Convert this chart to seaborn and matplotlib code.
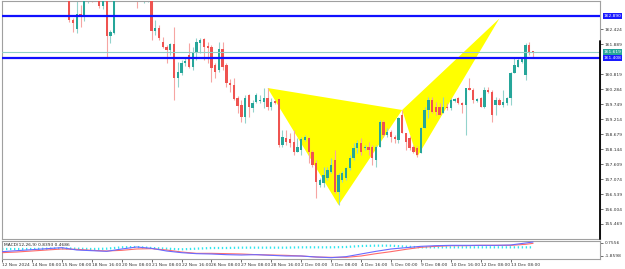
import numpy as np
import pandas as pd
import matplotlib
matplotlib.use("Agg")
import matplotlib.pyplot as plt
import matplotlib.transforms as mtransforms
from matplotlib.patches import Polygon
import seaborn as sns

# ---------------- data ----------------
opens = [163.658, 162.764, 162.442, 162.978, 162.907, 163.622, 163.765, 164.015, 163.622, 163.264,
         163.551, 162.192, 162.299, 163.586, 163.980, 163.837, 164.051, 163.908, 163.765, 163.586,
         163.515, 163.551, 163.586, 162.370, 162.478, 161.977, 161.798, 161.691, 161.906, 160.690,
         160.869, 161.226, 161.512, 161.083, 161.619, 161.941, 162.084, 161.834, 161.798, 161.155,
         160.976, 161.727, 161.155, 160.511, 160.439, 159.975, 159.724, 159.295, 160.082, 159.617,
         159.832, 159.867, 159.832, 159.975, 159.653, 159.867, 159.939, 158.294, 158.544, 158.508,
         158.401, 158.043, 158.115, 158.473, 158.544, 158.043, 157.650, 156.863, 156.935, 157.114,
         157.328, 157.757, 156.613, 157.042, 157.114, 157.471, 157.829, 158.187, 158.365, 158.187,
         158.222, 158.222, 157.757, 158.222, 159.116, 158.651, 158.759, 158.580, 158.473, 159.367,
         158.723, 158.544, 158.222, 158.187, 158.008, 158.902, 159.546, 159.903, 159.653, 159.653,
         159.438, 159.653, 159.617, 159.867, 159.975, 159.796, 159.724, 160.332, 160.261, 159.867,
         159.975, 159.653, 160.261, 160.189, 159.724, 159.903, 159.724, 159.796, 159.975, 160.869,
         161.083, 161.262, 160.797, 161.870, 161.655]
highs = [163.837, 162.835, 163.658, 163.300, 163.765, 163.980, 163.908, 164.123, 163.765, 163.694,
         163.694, 162.406, 163.694, 164.051, 164.123, 164.266, 164.123, 164.051, 163.837, 163.908,
         163.837, 163.908, 163.694, 162.764, 162.585, 162.156, 161.870, 161.941, 162.513, 161.262,
         161.333, 161.405, 161.941, 161.798, 162.120, 162.120, 162.120, 161.977, 161.870, 161.226,
         161.977, 161.977, 161.226, 160.654, 160.690, 160.046, 159.903, 160.082, 160.118, 159.903,
         160.153, 160.082, 160.332, 160.332, 159.975, 159.903, 159.939, 158.830, 158.830, 158.723,
         158.830, 158.544, 158.580, 158.651, 158.580, 158.115, 157.757, 157.114, 157.507, 157.507,
         157.829, 158.115, 157.292, 157.364, 157.507, 157.936, 158.365, 158.473, 158.544, 158.294,
         158.401, 158.294, 158.294, 159.188, 159.188, 158.902, 158.830, 158.651, 159.295, 159.546,
         158.723, 158.616, 158.294, 158.258, 158.938, 159.653, 160.010, 160.010, 159.832, 159.796,
         160.010, 159.796, 159.975, 159.975, 160.010, 159.832, 160.332, 160.690, 160.332, 159.975,
         160.010, 160.368, 160.368, 160.261, 160.010, 159.975, 160.261, 160.010, 160.904, 161.405,
         161.405, 161.441, 161.941, 161.977, 161.655]
lows = [162.692, 162.335, 162.299, 162.513, 162.728, 163.372, 163.407, 163.586, 163.193, 163.157,
        161.441, 161.941, 162.263, 163.479, 163.551, 163.694, 163.658, 163.515, 163.193, 163.515,
        163.372, 163.407, 162.049, 162.227, 162.049, 161.763, 161.226, 161.512, 159.903, 160.368,
        160.797, 161.119, 161.047, 160.976, 161.333, 161.584, 161.333, 161.226, 160.547, 160.690,
        160.904, 160.976, 160.368, 160.189, 159.903, 159.438, 159.116, 159.080, 159.295, 159.474,
        159.796, 159.796, 159.617, 159.546, 159.546, 159.760, 158.222, 158.222, 158.294, 158.222,
        157.936, 158.043, 157.936, 158.437, 157.650, 157.507, 156.398, 156.792, 156.792, 157.042,
        157.292, 156.577, 156.148, 156.971, 157.042, 157.400, 157.757, 158.008, 157.936, 158.115,
        157.936, 157.579, 157.507, 158.222, 158.580, 158.580, 158.401, 158.365, 158.365, 158.723,
        158.115, 158.115, 158.008, 157.865, 158.008, 158.902, 159.259, 159.438, 159.367, 159.367,
        159.438, 159.546, 159.546, 159.832, 159.760, 159.438, 158.651, 160.261, 159.796, 159.832,
        159.653, 159.617, 160.153, 159.116, 159.367, 159.724, 159.653, 159.724, 159.724, 160.869,
        161.083, 161.226, 160.618, 161.512, 161.441]
closes = [162.764, 162.657, 162.978, 162.907, 163.586, 163.837, 163.586, 163.765, 163.264, 163.515,
          162.192, 162.335, 163.551, 163.908, 163.694, 164.123, 163.765, 163.622, 163.551, 163.801,
          163.694, 163.837, 162.370, 162.478, 162.120, 161.798, 161.691, 161.906, 160.690, 160.904,
          161.226, 161.298, 161.083, 161.619, 161.977, 162.049, 161.798, 161.763, 161.047, 160.904,
          161.727, 161.083, 160.511, 160.439, 159.939, 159.689, 159.295, 159.975, 159.653, 159.796,
          160.082, 159.903, 159.975, 159.653, 159.832, 159.796, 158.294, 158.580, 158.401, 158.365,
          158.043, 158.222, 158.508, 158.580, 158.043, 157.579, 156.971, 157.042, 157.221, 157.400,
          157.579, 156.613, 157.221, 157.292, 157.471, 157.829, 158.187, 158.365, 158.043, 158.222,
          158.115, 157.829, 158.222, 159.116, 158.651, 158.759, 158.580, 158.508, 159.259, 158.723,
          158.401, 158.187, 158.043, 157.936, 158.902, 159.546, 159.903, 159.474, 159.474, 159.367,
          159.653, 159.617, 159.903, 159.939, 159.796, 159.724, 160.332, 160.261, 159.903, 159.939,
          159.653, 160.261, 160.189, 159.367, 159.903, 159.724, 159.832, 159.975, 160.869, 161.155,
          161.333, 161.405, 161.870, 161.619, 161.619]

macd_bar = [-18, -14, -10, -6, -2, 2, 6, 10, 14, 18, 22, 26, 30, 34, 38, 42, 46, 50, 54,
            58, 62, 66, 70, 74, 78, 82, 86, 90, 94, 98, 102, 106, 110, 114, 118, 122, 124]
macd_main = [-0.988, -0.787, -0.586, -0.385, -0.183, -0.653, -0.787, -0.921, -0.452, -0.049,
             -0.318, -0.854, -1.189, -1.391, -1.458, -1.592, -1.659, -1.592, -1.726, -1.860,
             -1.860, -2.062, -2.195, -1.994, -1.458, -0.921, -0.452, -0.183, 0.085, 0.219,
             0.286, 0.286, 0.286, 0.286, 0.353, 0.755, 0.957]
macd_signal = [-1.189, -1.055, -0.854, -0.653, -0.452, -0.519, -0.720, -0.854, -0.720, -0.452,
               -0.385, -0.653, -1.055, -1.324, -1.324, -1.391, -1.458, -1.592, -1.659, -1.726,
               -1.860, -2.062, -2.128, -2.128, -1.860, -1.391, -0.988, -0.519, -0.116, 0.085,
               0.219, 0.219, 0.286, 0.286, 0.286, 0.487, 0.688]
macd_osma = [-0.452, -0.452, -0.452, -0.385, -0.318, -0.385, -0.452, -0.385, -0.116, -0.049,
             -0.250, -0.385, -0.519, -0.385, -0.250, -0.250, -0.183, -0.183, -0.183, -0.183,
             -0.116, -0.116, -0.116, -0.049, 0.152, 0.219, 0.219, 0.018, -0.116, -0.116,
             -0.116, -0.116, -0.116, -0.116, -0.116, -0.116, -0.116]

pattern_xab_bar = [53, 72, 89]
pattern_xab_price = [160.332, 156.148, 159.546]
pattern_bcd_bar = [89, 93, 115]
pattern_bcd_price = [159.546, 157.865, 162.817]

level_high = 162.890
level_low = 161.408
bid_price = 161.619

price_ticks = [162.424, 161.889, 160.819, 160.284, 159.749, 159.214, 158.679,
               158.144, 157.609, 157.074, 156.539, 156.004, 155.469]
time_tick_bars = [-18, -10, -2, 6, 14, 22, 30, 38, 46, 54, 62, 70, 78, 86, 94, 102, 110, 118]
time_labels = ["12 Nov 2024", "14 Nov 08:00", "15 Nov 08:00", "18 Nov 16:00", "20 Nov 08:00",
               "21 Nov 08:00", "22 Nov 16:00", "26 Nov 08:00", "27 Nov 08:00", "28 Nov 16:00",
               "2 Dec 00:00", "3 Dec 08:00", "4 Dec 16:00", "5 Dec 00:00", "9 Dec 08:00",
               "10 Dec 16:00", "12 Dec 08:00", "13 Dec 08:00"]
macd_ticks = [0.7556, -1.8598]
macd_title = "MACD(12,26,9) 0.8393 0.4686"

# ---------------- figure ----------------
sns.set_style("white")
plt.rcParams['font.family'] = ['DejaVu Sans']

W, H = 625, 269
fig = plt.figure(figsize=(W / 100, H / 100), dpi=100)
ax = fig.add_axes([2 / W, 1 - 238.5 / H, 598 / W, 237.5 / H])
ax2 = fig.add_axes([2 / W, 1 - 259 / H, 598 / W, 18 / H], sharex=ax)

spine_c = "#a0a0a0"
for a in (ax, ax2):
    for s in a.spines.values():
        s.set_color(spine_c)
        s.set_linewidth(0.8)
    a.set_facecolor("white")

xmin, xmax = -17.6, 141.9
ax.set_xlim(xmin, xmax)
ax.set_ylim(154.950, 163.443)

df = pd.DataFrame({"o": opens, "h": highs, "l": lows, "c": closes})
df["i"] = np.arange(len(df))
up = df["c"] >= df["o"]
bull, bear = "#26a69a", "#ef5350"
bull_w, bear_w = "#93d3cc", "#f6a5a3"

# harmonic pattern triangles (beneath candles)
ax.add_patch(Polygon(np.column_stack([pattern_xab_bar, pattern_xab_price]), closed=True,
                     facecolor="#ffff00", edgecolor="none", zorder=1))
ax.add_patch(Polygon(np.column_stack([pattern_bcd_bar, pattern_bcd_price]), closed=True,
                     facecolor="#ffff00", edgecolor="none", zorder=1))

# wicks
ax.vlines(df["i"][up], df["l"][up], df["h"][up], color=bull_w, lw=0.8, zorder=2)
ax.vlines(df["i"][~up], df["l"][~up], df["h"][~up], color=bear_w, lw=0.8, zorder=2)
# bodies
body_lo = np.minimum(df["o"], df["c"])
body_h = np.maximum(np.abs(df["c"] - df["o"]), 0.03)
ax.bar(df["i"][up], body_h[up], bottom=body_lo[up], width=0.62, color=bull, linewidth=0, zorder=3)
ax.bar(df["i"][~up], body_h[~up], bottom=body_lo[~up], width=0.62, color=bear, linewidth=0, zorder=3)

# horizontal levels
ax.axhline(level_high, color="#1010ff", lw=1.6, zorder=4)
ax.axhline(level_low, color="#1010ff", lw=1.6, zorder=4)
ax.axhline(bid_price, color="#8fcfc6", lw=0.8, zorder=4)

FS = 3.2
# right price scale
ax.yaxis.tick_right()
ax.set_yticks(price_ticks)
ax.set_yticklabels([f"{v:.3f}" for v in price_ticks])
ax.tick_params(axis="y", right=True, length=2, width=0.5, pad=1.5, labelsize=FS,
               colors="#333333", direction="out")
ax.tick_params(axis="x", bottom=False, labelbottom=False)
trans = mtransforms.blended_transform_factory(ax.transAxes, ax.transData)
for val, bg in [(level_high, "#1a1aff"), (bid_price, "#26a69a"), (level_low, "#1a1aff")]:
    ax.text(1.006, val, f"{val:.3f}", transform=trans, fontsize=FS, color="white",
            va="center", ha="left", clip_on=False,
            bbox=dict(facecolor=bg, edgecolor="none", pad=0.7), zorder=6)
ax.plot([1, 1], [0, 0.8316], transform=ax.transAxes, color="black", lw=1.3,
        clip_on=False, zorder=7)

# MACD panel
mdf = pd.DataFrame({"bar": macd_bar, "main": macd_main, "signal": macd_signal, "osma": macd_osma})
sns.lineplot(data=mdf, x="bar", y="osma", ax=ax2, color="#2ee6f0", lw=1.6,
             linestyle=(0, (0.6, 1.2)), zorder=2)
sns.lineplot(data=mdf, x="bar", y="signal", ax=ax2, color="#ff6b6b", lw=0.8, zorder=3)
sns.lineplot(data=mdf, x="bar", y="main", ax=ax2, color="#6a6aff", lw=0.8, zorder=4)
ax2.set_ylim(-2.464, 1.158)
ax2.set_xlim(xmin, xmax)
ax2.set_xlabel("")
ax2.set_ylabel("")
ax2.yaxis.tick_right()
ax2.set_yticks(macd_ticks)
ax2.set_yticklabels([f"{v:.4f}" for v in macd_ticks])
ax2.tick_params(axis="y", right=True, length=2, width=0.5, pad=1.5, labelsize=FS,
                colors="#333333")
ax2.set_xticks(time_tick_bars)
ax2.set_xticklabels(time_labels, ha="left")
ax2.tick_params(axis="x", bottom=True, length=2, width=0.5, pad=0.8, labelsize=FS,
                colors="#333333")
ax2.text(0.003, 0.78, macd_title, transform=ax2.transAxes, fontsize=3.2, color="#222222",
         va="center", ha="left")
ax.set_ylabel("")
ax.set_xlabel("")

fig.savefig("out.png", dpi=100)
